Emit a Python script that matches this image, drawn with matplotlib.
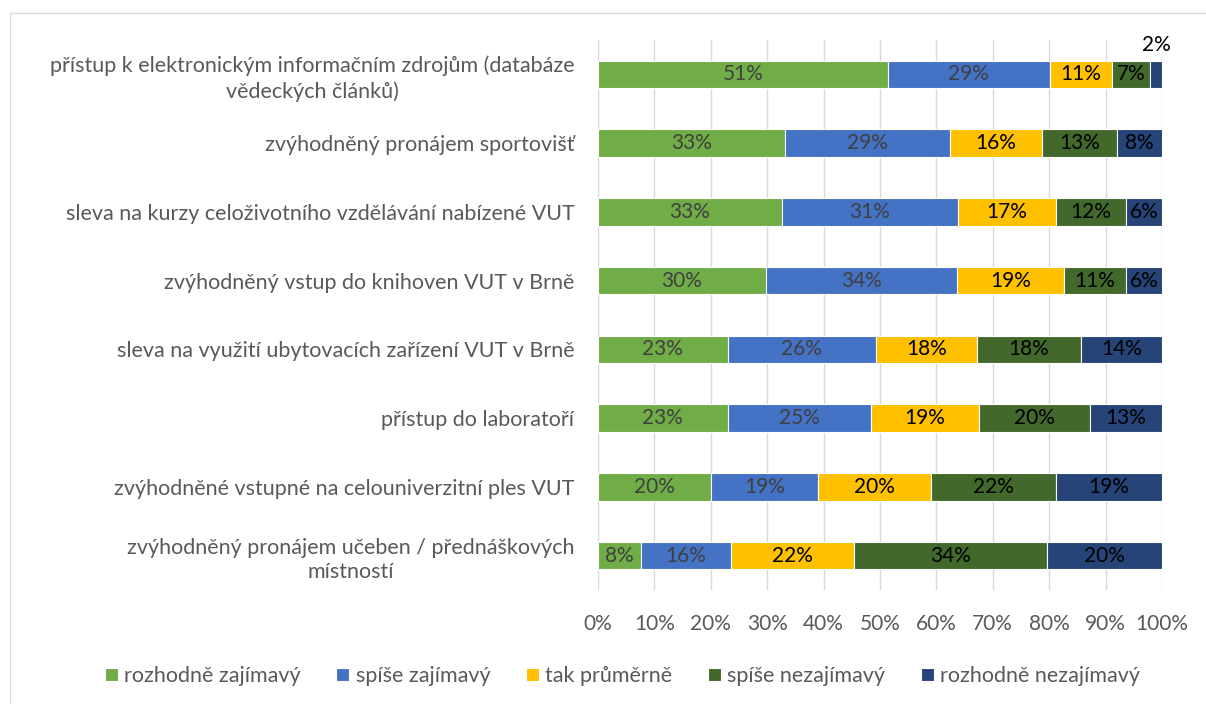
import matplotlib
matplotlib.use("Agg")
import matplotlib.pyplot as plt
from matplotlib.patches import Rectangle
import numpy as np

plt.rcParams['font.family'] = ['Lato', 'DejaVu Sans']

categories = [
    "přístup k elektronickým informačním zdrojům (databáze\nvědeckých článků)",
    "zvýhodněný pronájem sportovišť",
    "sleva na kurzy celoživotního vzdělávání nabízené VUT",
    "zvýhodněný vstup do knihoven VUT v Brně",
    "sleva na využití ubytovacích zařízení VUT v Brně",
    "přístup do laboratoří",
    "zvýhodněné vstupné na celouniverzitní ples VUT",
    "zvýhodněný pronájem učeben / přednáškových\nmístností",
]
series_names = ["rozhodně zajímavý", "spíše zajímavý", "tak průměrně",
                "spíše nezajímavý", "rozhodně nezajímavý"]
rozhodne_zajimavy = [51.4, 33.2, 32.6, 29.8, 23.0, 23.0, 20.0, 7.6]
spise_zajimavy = [28.7, 29.2, 31.2, 33.9, 26.3, 25.4, 19.0, 16.0]
tak_prumerne = [11.0, 16.3, 17.4, 18.9, 17.9, 19.2, 20.0, 21.8]
spise_nezajimavy = [6.8, 13.3, 12.4, 11.0, 18.4, 19.6, 22.2, 34.2]
rozhodne_nezajimavy = [2.1, 8.0, 6.4, 6.4, 14.4, 12.8, 18.8, 20.4]
x_ticks = [0, 10, 20, 30, 40, 50, 60, 70, 80, 90, 100]

series = [rozhodne_zajimavy, spise_zajimavy, tak_prumerne, spise_nezajimavy, rozhodne_nezajimavy]
colors = ["#70AD47", "#4472C4", "#FFC000", "#43682B", "#264478"]
label_colors = ["#404040", "#404040", "#000000", "#000000", "#000000"]

fig = plt.figure(figsize=(12.06, 7.04), dpi=100)
fig.patches.append(Rectangle((10/1206, -0.1), 1.2, 1 - 13/704 + 0.1, transform=fig.transFigure,
                             fill=False, edgecolor="#D9D9D9", linewidth=1.0))
ax = fig.add_axes([598/1206, 1 - 590/704, 564/1206, 550/704])

y = np.arange(len(categories))
left = np.zeros(len(categories))
for i, (vals, name) in enumerate(zip(series, series_names)):
    vals = np.array(vals)
    ax.barh(y, vals, left=left, height=0.4, color=colors[i], label=name,
            edgecolor="white", linewidth=0.8, zorder=3)
    for j, (v, l) in enumerate(zip(vals, left)):
        txt = f"{round(v):.0f}%"
        if v < 4:
            ax.text(l + v / 2, j - 0.43, txt, ha="center", va="center", fontsize=15,
                    color="#000000", zorder=4)
        else:
            ax.text(l + v / 2, j, txt, ha="center", va="center", fontsize=15,
                    color=label_colors[i], zorder=4)
    left = left + vals

ax.set_ylim(len(categories) - 0.5, -0.5)
ax.set_xlim(0, 100)
ax.set_yticks(y)
ax.set_yticklabels(categories, fontsize=15.5, color="#595959", ha="right",
                   multialignment="center", linespacing=1.3)
ax.set_xticks(x_ticks)
ax.set_xticklabels([f"{t}%" for t in x_ticks], fontsize=15, color="#595959")
ax.tick_params(axis="both", length=0)
ax.tick_params(axis="x", pad=17)
ax.tick_params(axis="y", pad=17)
for s in ax.spines.values():
    s.set_visible(False)
ax.grid(axis="x", color="#D9D9D9", linewidth=1.0, zorder=0)
ax.set_axisbelow(True)

leg = fig.legend(loc="center", bbox_to_anchor=(0.516, 1 - 676/704), ncol=5, frameon=False,
                 fontsize=15.5, handlelength=0.6, handleheight=0.6, handletextpad=0.3,
                 columnspacing=1.65, labelcolor="#595959")

fig.savefig("out.png", dpi=100)
